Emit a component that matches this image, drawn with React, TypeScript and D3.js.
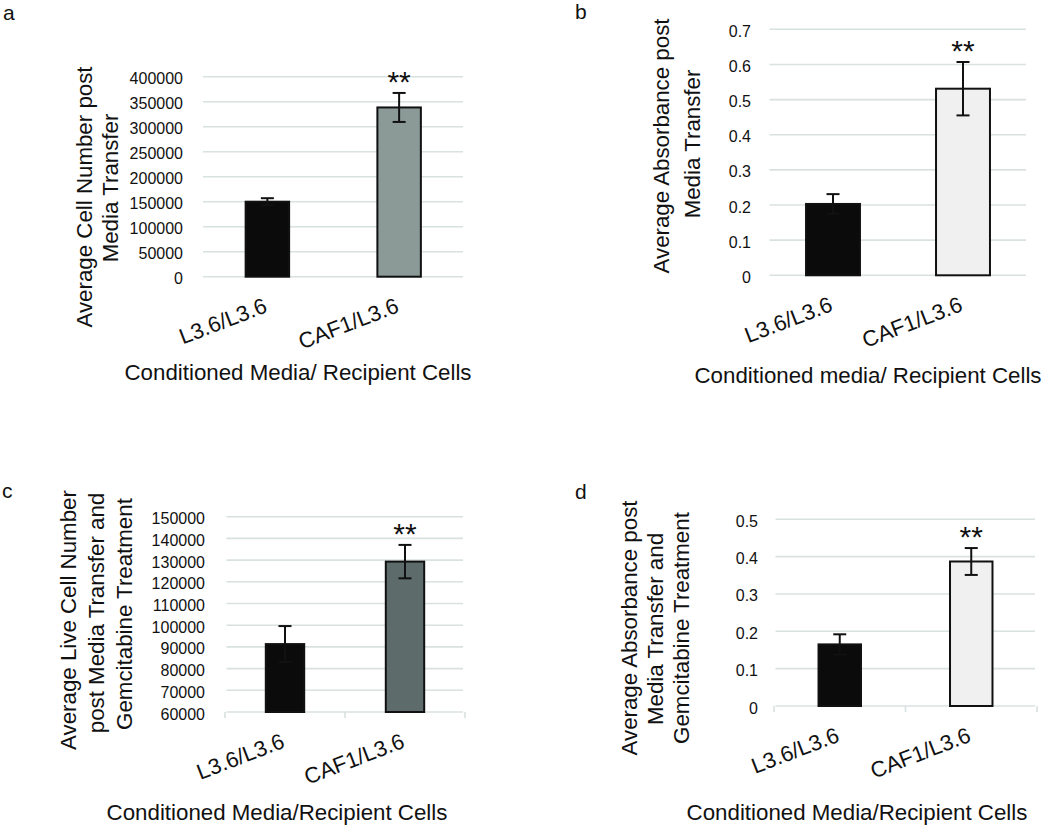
import React from "react";
import * as d3 from "d3";

// ---------- DATA ----------
const categories = ["L3.6/L3.6", "CAF1/L3.6"];
const significance = ["", "**"];

// Panel a: Average cell number post media transfer
const cellNumberMeans = [150000, 338500];
const cellNumberErrors = [7000, 29000];
const cellNumberTicks = [0, 50000, 100000, 150000, 200000, 250000, 300000, 350000, 400000];

// Panel b: Average absorbance post media transfer
const absorbanceMeans = [0.203, 0.531];
const absorbanceErrors = [0.028, 0.076];
const absorbanceTicks = [0, 0.1, 0.2, 0.3, 0.4, 0.5, 0.6, 0.7];

// Panel c: Average live cell number post media transfer and gemcitabine
const liveCellMeans = [91300, 129300];
const liveCellErrors = [8300, 7700];
const liveCellTicks = [60000, 70000, 80000, 90000, 100000, 110000, 120000, 130000, 140000, 150000];

// Panel d: Average absorbance post media transfer and gemcitabine
const gemAbsMeans = [0.165, 0.387];
const gemAbsErrors = [0.027, 0.036];
const gemAbsTicks = [0, 0.1, 0.2, 0.3, 0.4, 0.5];

// ---------- LAYOUT ----------
const FONT = "'Liberation Sans', Arial, Helvetica, sans-serif";
const GRID = "#d8e2e0";

type Line = { text: string; bx: number; cy: number };
type PanelCfg = {
  letter: string;
  letterX: number;
  letterY: number;
  x0: number;
  x1: number;
  yTop: number;
  yBot: number;
  ticks: number[];
  means: number[];
  errors: number[];
  barRatio: number;
  tickRight: number;
  fills: string[];
  yTitle: Line[];
  xTitle: string;
  xTitleX: number;
  xTitleY: number;
  catTicks: boolean;
};

const panels: PanelCfg[] = [
  {
    letter: "a", letterX: 3, letterY: 20,
    x0: 201.5, x1: 465, yTop: 76.7, yBot: 276.7,
    ticks: cellNumberTicks, means: cellNumberMeans, errors: cellNumberErrors,
    barRatio: 0.33, tickRight: 183,
    fills: ["#0b0b0b", "#8b9997"],
    yTitle: [
      { text: "Average Cell Number post", bx: 92, cy: 197 },
      { text: "Media Transfer", bx: 118, cy: 188 },
    ],
    xTitle: "Conditioned Media/ Recipient Cells", xTitleX: 298, xTitleY: 380,
    catTicks: false,
  },
  {
    letter: "b", letterX: 575, letterY: 19,
    x0: 768, x1: 1028, yTop: 29.3, yBot: 275.3,
    ticks: absorbanceTicks, means: absorbanceMeans, errors: absorbanceErrors,
    barRatio: 0.415, tickRight: 751,
    fills: ["#0b0b0b", "#f0f0f0"],
    yTitle: [
      { text: "Average Absorbance post", bx: 669, cy: 146 },
      { text: "Media Transfer", bx: 700, cy: 144 },
    ],
    xTitle: "Conditioned media/ Recipient Cells", xTitleX: 868, xTitleY: 383,
    catTicks: false,
  },
  {
    letter: "c", letterX: 2, letterY: 498,
    x0: 225, x1: 465, yTop: 516.7, yBot: 712,
    ticks: liveCellTicks, means: liveCellMeans, errors: liveCellErrors,
    barRatio: 0.32, tickRight: 205,
    fills: ["#0b0b0b", "#5d6b6a"],
    yTitle: [
      { text: "Average Live Cell Number", bx: 76, cy: 620 },
      { text: "post Media Transfer and", bx: 104, cy: 613 },
      { text: "Gemcitabine Treatment", bx: 132, cy: 614 },
    ],
    xTitle: "Conditioned Media/Recipient Cells", xTitleX: 277, xTitleY: 820,
    catTicks: true,
  },
  {
    letter: "d", letterX: 575, letterY: 499,
    x0: 774, x1: 1037, yTop: 519.3, yBot: 706,
    ticks: gemAbsTicks, means: gemAbsMeans, errors: gemAbsErrors,
    barRatio: 0.323, tickRight: 758,
    fills: ["#0b0b0b", "#f0f0f0"],
    yTitle: [
      { text: "Average Absorbance post", bx: 637, cy: 628 },
      { text: "Media Transfer and", bx: 663, cy: 629 },
      { text: "Gemcitabine Treatment", bx: 689, cy: 628 },
    ],
    xTitle: "Conditioned Media/Recipient Cells", xTitleX: 857, xTitleY: 820,
    catTicks: true,
  },
];

function Panel({ p }: { p: PanelCfg }) {
  const ticks = p.ticks;
  const y = d3
    .scaleLinear()
    .domain([ticks[0], ticks[ticks.length - 1]])
    .range([p.yBot, p.yTop]);
  const x = d3
    .scaleBand<string>()
    .domain(categories)
    .range([p.x0, p.x1])
    .paddingInner(1 - p.barRatio)
    .paddingOuter((1 - p.barRatio) / 2);
  const bw = x.bandwidth();
  const step = x.step();
  const cap = 6.5;
  const fmt = (v: number) => String(v);

  return (
    <g>
      <text x={p.letterX} y={p.letterY} fontSize={21} fontFamily={FONT} fill="#111">
        {p.letter}
      </text>
      {/* gridlines */}
      {ticks.map((t) => (
        <line
          key={"g" + t}
          x1={p.x0 + 1.5}
          x2={p.x1 - 2}
          y1={y(t)}
          y2={y(t)}
          stroke={GRID}
          strokeWidth={1.6}
        />
      ))}
      {p.catTicks &&
        [0, 1, 2].map((i) => (
          <line
            key={"ct" + i}
            x1={p.x0 + i * step}
            x2={p.x0 + i * step}
            y1={p.yBot}
            y2={p.yBot + 6}
            stroke={GRID}
            strokeWidth={1.6}
          />
        ))}
      {/* tick labels */}
      {ticks.map((t) => (
        <text
          key={"t" + t}
          x={p.tickRight}
          y={y(t) + 7.5}
          textAnchor="end"
          fontSize={16}
          fontFamily={FONT}
          fill="#111"
        >
          {fmt(t)}
        </text>
      ))}
      {/* bars */}
      {categories.map((c, i) => (
        <rect
          key={"b" + c}
          x={x(c)!}
          y={y(p.means[i])}
          width={bw}
          height={y(ticks[0]) - y(p.means[i])}
          fill={p.fills[i]}
          stroke="#111"
          strokeWidth={2}
        />
      ))}
      {/* error bars */}
      {categories.map((c, i) => {
        const cx = x(c)! + bw / 2;
        const hi = y(p.means[i] + p.errors[i]);
        const lo = y(p.means[i] - p.errors[i]);
        return (
          <g key={"e" + c} stroke="#111" strokeWidth={2}>
            <line x1={cx} x2={cx} y1={hi} y2={lo} />
            <line x1={cx - cap} x2={cx + cap} y1={hi} y2={hi} />
            <line x1={cx - cap} x2={cx + cap} y1={lo} y2={lo} />
          </g>
        );
      })}
      {/* significance */}
      {categories.map((c, i) =>
        significance[i] ? (
          <text
            key={"s" + c}
            x={x(c)! + bw / 2}
            y={y(p.means[i] + p.errors[i]) - 1}
            textAnchor="middle"
            fontSize={30}
            fontFamily={FONT}
            fill="#111"
          >
            {significance[i]}
          </text>
        ) : null
      )}
      {/* category labels */}
      {categories.map((c) => (
        <text
          key={"c" + c}
          transform={`translate(${x(c)! + bw / 2 + 1},${p.yBot + 35}) rotate(-21)`}
          textAnchor="end"
          fontSize={22}
          fontFamily={FONT}
          fill="#111"
        >
          {c}
        </text>
      ))}
      {/* y title */}
      {p.yTitle.map((l) => (
        <text
          key={"y" + l.text}
          transform={`translate(${l.bx},${l.cy}) rotate(-90)`}
          textAnchor="middle"
          fontSize={22.3}
          fontFamily={FONT}
          fill="#111"
        >
          {l.text}
        </text>
      ))}
      {/* x title */}
      <text
        x={p.xTitleX}
        y={p.xTitleY}
        textAnchor="middle"
        fontSize={22.3}
        fontFamily={FONT}
        fill="#111"
      >
        {p.xTitle}
      </text>
    </g>
  );
}

export default function App() {
  return (
    <svg
      width={1050}
      height={826}
      viewBox="0 0 1050 826"
      style={{ position: "absolute", left: 0, top: 0, background: "#fff" }}
    >
      <rect x={0} y={0} width={1050} height={826} fill="#fff" />
      {panels.map((p) => (
        <Panel key={p.letter} p={p} />
      ))}
    </svg>
  );
}
